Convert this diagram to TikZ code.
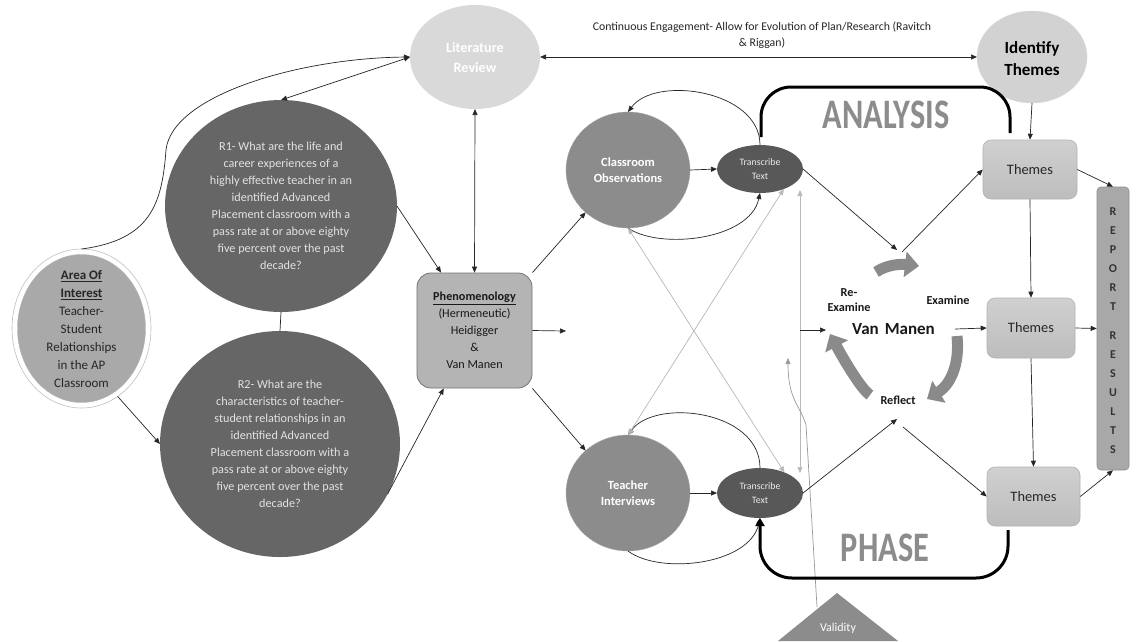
\documentclass[tikz,border=0pt]{standalone}
\usepackage{fontspec}
\setmainfont{Carlito}
\usepackage{graphicx}
\usetikzlibrary{shapes.geometric,arrows.meta}
\definecolor{rq}{HTML}{666666}
\definecolor{rqtext}{HTML}{E2E2E2}
\definecolor{areafill}{HTML}{A9A9A9}
\definecolor{litfill}{HTML}{D9D9D9}
\definecolor{idtfill}{HTML}{D2D2D2}
\definecolor{obsfill}{HTML}{8C8C8C}
\definecolor{ttfill}{HTML}{585858}
\definecolor{phenfill}{HTML}{B4B4B4}
\definecolor{themetop}{HTML}{D0D0D0}
\definecolor{themebot}{HTML}{BDBDBD}
\definecolor{repfill}{HTML}{A8A8A8}
\definecolor{fatgray}{HTML}{8A8A8A}
\definecolor{crossgray}{HTML}{B8B8B8}
\definecolor{bigtext}{HTML}{8C8C8C}
\begin{document}
\begin{tikzpicture}[x=1pt,y=-1pt,
  tip/.tip={Triangle[length=6pt,width=5pt]},
  ar/.style={-tip, line width=0.7pt, black!85},
  bar/.style={tip-tip, line width=0.7pt, black!85},
  gbar/.style={{Triangle[length=6pt,width=5pt]}-{Triangle[length=6pt,width=5pt]}, line width=0.7pt, crossgray},
  gar/.style={-{Triangle[length=6pt,width=5pt]}, line width=0.7pt, black!40},
  ell/.style={ellipse, inner sep=0pt, outer sep=0pt},
  rqtxt/.style={align=center, text=rqtext, font=\fontsize{12.2}{17}\selectfont},
  obstxt/.style={align=center, text=white, font=\fontsize{12.5}{16}\selectfont\bfseries},
  tttxt/.style={align=center, text=white!92!black, font=\fontsize{9.8}{13.5}\selectfont},
  themebox/.style={rectangle, rounded corners=8pt, top color=themetop, bottom color=themebot, draw=black!30, line width=0.6pt, font=\fontsize{14.4}{17}\selectfont, text=black!85},
  lbl/.style={align=center, font=\fontsize{12.2}{15}\selectfont\bfseries, text=black!90},
  fat/.style={line width=11pt, fatgray, -{Triangle[length=14pt,width=25pt]}},
  bracket/.style={line width=3pt, black},
  bigword/.style={font=\fontsize{42}{42}\selectfont\bfseries}
]
\useasboundingbox (0,0) rectangle (1139,641);
\fill[white] (0,0) rectangle (1139,641);

% ---------- left part ----------
\node[ell, minimum width=139pt, minimum height=159pt, draw=black!25, line width=0.6pt, fill=white] (areaO) at (81.5,328.5) {};
\node[ell, minimum width=128pt, minimum height=148pt, fill=areafill, draw=black!30, line width=0.4pt] (area) at (81.5,328.5) {};
\node[align=center, font=\fontsize{13}{18}\selectfont, text=black!85] (areaT) at (81.5,329) {\underline{\textbf{Area Of}}\\\underline{\textbf{Interest}}\\Teacher-\\Student\\Relationships\\in the AP\\Classroom};

\node[ell, minimum width=232pt, minimum height=212pt, fill=rq] (r1) at (281,206) {};
\node[rqtxt] (r1T) at (281,206) {R1- What are the life and\\career experiences of a\\highly effective teacher in an\\identified Advanced\\Placement classroom with a\\pass rate at or above eighty\\five percent over the past\\decade?};

\node[ell, minimum width=240pt, minimum height=226pt, fill=rq] (r2) at (280,444) {};
\node[rqtxt] (r2T) at (280,444) {R2- What are the\\characteristics of teacher-\\student relationships in an\\identified Advanced\\Placement classroom with a\\pass rate at or above eighty\\five percent over the past\\decade?};

\node[ell, minimum width=130pt, minimum height=104pt, fill=litfill] (lit) at (475,57) {};
\node[align=center, text=white, font=\fontsize{14.2}{20}\selectfont\bfseries] (litT) at (475,58) {Literature\\Review};

\node[ell, minimum width=110pt, minimum height=92pt, fill=idtfill, draw=black!15, line width=0.5pt] (idt) at (1032,57) {};
\node[align=center, text=black, font=\fontsize{17}{22}\selectfont\bfseries] (idtT) at (1032,59) {Identify\\Themes};

\node[rectangle, rounded corners=14pt, minimum width=115pt, minimum height=115pt, fill=phenfill, draw=black!55, line width=0.8pt, align=center, font=\fontsize{12.2}{17}\selectfont, text=black!90] (phen) at (474.5,330.5) {\underline{\textbf{Phenomenology}}\\(Hermeneutic)\\Heidigger\\\&\\Van Manen};

\node[font=\fontsize{11.8}{16.5}\selectfont, align=center, text=black!85] (cont) at (762,35) {Continuous Engagement- Allow for Evolution of Plan/Research (Ravitch\\\& Riggan)};

% ---------- observation / interview ----------
\node[ell, minimum width=124pt, minimum height=116pt, fill=obsfill, draw=black!35, line width=0.4pt] (co) at (628,170) {};
\node[obstxt] (coT) at (628,170) {Classroom\\Observations};
\node[ell, minimum width=124pt, minimum height=116pt, fill=obsfill, draw=black!35, line width=0.4pt] (ti) at (628,493) {};
\node[obstxt] (tiT) at (628,493) {Teacher\\Interviews};

\node[ell, minimum width=86pt, minimum height=48pt, fill=ttfill] (tt1) at (760,169) {};
\node[tttxt] (tt1T) at (760,169) {Transcribe\\Text};
\node[ell, minimum width=86pt, minimum height=50pt, fill=ttfill] (tt2) at (760,493) {};
\node[tttxt] (tt2T) at (760,493) {Transcribe\\Text};

% ---------- analysis ----------
\node[bigword, text=bigtext] (an) at (886,115) {\scalebox{0.77}[1]{ANALYSIS}};
\node[bigword, text=bigtext] (ph) at (885,548) {\scalebox{0.77}[1]{PHASE}};

\node[font=\fontsize{17}{20}\selectfont\bfseries, text=black!90, inner xsep=20pt, inner ysep=2pt] (vm) at (893.5,329) {Van\hspace{6pt}Manen};
\node[lbl] (rex) at (849,300) {Re-\\Examine};
\node[lbl] (ex) at (948,300) {Examine};
\node[lbl] (rf) at (898,400) {Reflect};

\node[themebox, minimum width=94pt, minimum height=59pt] (th1) at (1030,169.5) {Themes};
\node[themebox, minimum width=88pt, minimum height=60pt] (th2) at (1031,328) {Themes};
\node[themebox, minimum width=93pt, minimum height=59pt] (th3) at (1033.5,496.5) {Themes};

\node[rectangle, rounded corners=4pt, minimum width=32pt, minimum height=283pt, fill=repfill, draw=black!45, line width=0.6pt] (rep) at (1113,328.5) {};
\node[align=center, font=\fontsize{12}{19}\selectfont\bfseries, text=black!80] (repT) at (1113,331) {R\\E\\P\\O\\R\\T\\[10pt]R\\E\\S\\U\\L\\T\\S};

% validity triangle
\fill[obsfill] (778,641) -- (837,593) -- (898,641) -- cycle;
\node[text=white, font=\fontsize{12}{14}\selectfont] (val) at (838,628) {Validity};

% ---------- coordinates for free ends ----------
\coordinate (phenout) at (566,331);
\coordinate (vtop) at (800,190);
\coordinate (vbot) at (800,473);
\coordinate (vmid) at (800,330);
\coordinate (vmin) at (826,330);
\coordinate (valtop) at (817,607);
\coordinate (valend) at (788,358);
\coordinate (ex1) at (897,250);
\coordinate (ex2) at (902,252);
\coordinate (rf1) at (897,419);
\coordinate (rf2) at (903,427);

% ---------- connectors ----------
\draw[ar] (areaO.north) .. controls (150,240) and (162,205) .. (166,150) .. controls (172,95) and (300,58) .. (lit.west);
\draw[bar] (r1.north) -- (lit.west);
\draw[bar] (lit.south) -- (phen.north);
\draw[line width=0.7pt, black!85] (r1.south) -- (r2.north);
\draw[ar] (r1.east) -- (phen.120);
\draw[ar] (r2.-25) -- (phen.-118);
\draw[ar] (areaO.-62) -- (r2.west);
\draw[bar] (lit.east) -- (idt.west);

\draw[ar] (phen.east) -- (phenout);
\draw[ar] (phen.45) -- (co.-135);
\draw[ar] (phen.-45) -- (ti.135);

\draw[ar] (co.east) -- (tt1.west);
\draw[ar] (ti.east) -- (tt2.west);
\draw[ar] (tt1.north) .. controls (760,90) and (655,75) .. (co.north);
\draw[ar] (co.south) .. controls (660,250) and (750,240) .. (tt1.south);
\draw[ar] (tt2.north) .. controls (760,410) and (655,398) .. (ti.north);
\draw[ar] (ti.south) .. controls (660,575) and (750,565) .. (tt2.south);

\draw[gbar] (tt1.-40) -- (ti.north);
\draw[gbar] (co.south) -- (tt2.40);
\draw[gbar] (vtop) -- (vbot);
\draw[ar] (vmid) -- (vmin);
\draw[gar] (valtop) -- (806,425) .. controls (800,405) and (788,400) .. (valend);

\draw[ar] (tt1.east) -- (ex1);
\draw[ar] (ex2) -- (th1.west);
\draw[ar] (tt2.east) -- (rf1);
\draw[ar] (rf2) -- (th3.west);
\draw[ar] (vm.east) -- (th2.west);

\draw[ar] (idt.south) -- (th1.north);
\draw[ar] (th1.south) -- (th2.north);
\draw[ar] (th2.south) -- (th3.north);
\draw[ar] (th1.east) -- (rep.north);
\draw[ar] (th2.east) -- (rep.west);
\draw[ar] (th3.east) -- (rep.south);

% brackets
\draw[bracket, rounded corners=30pt] (761,137) -- (761,87) -- (1010,87) -- (1010,133);
\draw[bracket, rounded corners=32pt, -{Triangle[length=8pt,width=9pt]}] (1008,530) -- (1008,578) -- (760,578) -- (tt2.south);

% fat cycle arrows
\draw[fat] (876,272) .. controls (888,264) and (902,264) .. (919,266);
\draw[fat] (957,336) .. controls (960,365) and (950,385) .. (927,399);
\draw[fat] (870,395) .. controls (862,390) and (845,362) .. (830,334);
\end{tikzpicture}
\end{document}
